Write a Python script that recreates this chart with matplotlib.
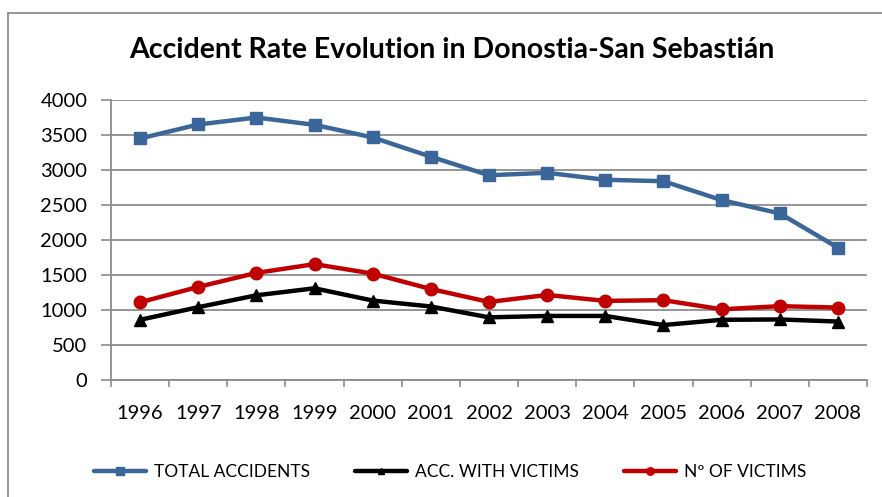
import matplotlib.pyplot as plt
import numpy as np

years = ['1996', '1997', '1998', '1999', '2000', '2001', '2002',
         '2003', '2004', '2005', '2006', '2007', '2008']
total_accidents = [3450, 3650, 3750, 3645, 3465, 3190, 2925, 2960, 2860, 2840, 2570, 2380, 1890]
acc_with_victims = [860, 1040, 1210, 1310, 1135, 1050, 895, 915, 915, 785, 860, 865, 835]
num_victims = [1110, 1330, 1530, 1655, 1520, 1300, 1115, 1215, 1130, 1140, 1010, 1055, 1035]

plt.rcParams['font.family'] = ['Lato', 'DejaVu Sans']

fig = plt.figure(figsize=(8.82, 4.97), dpi=100)
ax = fig.add_axes([111/882, 117/497, 756/882, 280/497])

x = np.arange(len(years))
ax.plot(x, total_accidents, color='#3A6699', lw=3.2, marker='s', ms=9,
        solid_capstyle='round', label='TOTAL ACCIDENTS')
ax.plot(x, acc_with_victims, color='black', lw=3.2, marker='^', ms=8,
        solid_capstyle='round', label='ACC. WITH VICTIMS')
ax.plot(x, num_victims, color='#C00000', lw=3.2, marker='o', ms=9,
        solid_capstyle='round', label='Nº OF VICTIMS')

ax.set_xlim(-0.5, len(years) - 0.5)
ax.set_ylim(0, 4000)
ax.set_yticks(range(0, 4001, 500))
ax.set_xticks(x)
ax.set_xticklabels(years)
ax.set_xticks(np.arange(-0.5, len(years)), minor=True)
ax.tick_params(axis='x', which='major', length=0, pad=18, labelsize=14.5)
ax.tick_params(axis='x', which='minor', length=5, color='#8c8c8c', width=1.2)
ax.tick_params(axis='y', length=7, color='#8c8c8c', width=1.2, labelsize=14.5, pad=10)
ax.grid(axis='y', color='#8c8c8c', lw=1.3)
ax.set_axisbelow(True)
for s in ['top', 'right']:
    ax.spines[s].set_visible(False)
for s in ['left', 'bottom']:
    ax.spines[s].set_color('#8c8c8c')
    ax.spines[s].set_linewidth(1.3)

fig.text(0.512, 0.9, 'Accident Rate Evolution in Donostia-San Sebastián',
         ha='center', va='center', fontsize=20.5, fontweight='bold')

fig.legend(loc='center', bbox_to_anchor=(0.51, 0.05), ncol=3, frameon=False,
           fontsize=12.5, handlelength=3.0, columnspacing=2.6, handletextpad=0.45,
           markerscale=0.6)

# chart border: only left and top edges fall inside the picture
fig.patches.append(plt.Rectangle((8/882, -0.05), 1.0, 1.05 - 13/497,
                                 transform=fig.transFigure, fill=False,
                                 edgecolor='#8c8c8c', lw=1.3))

fig.savefig('out.png', dpi=100)
